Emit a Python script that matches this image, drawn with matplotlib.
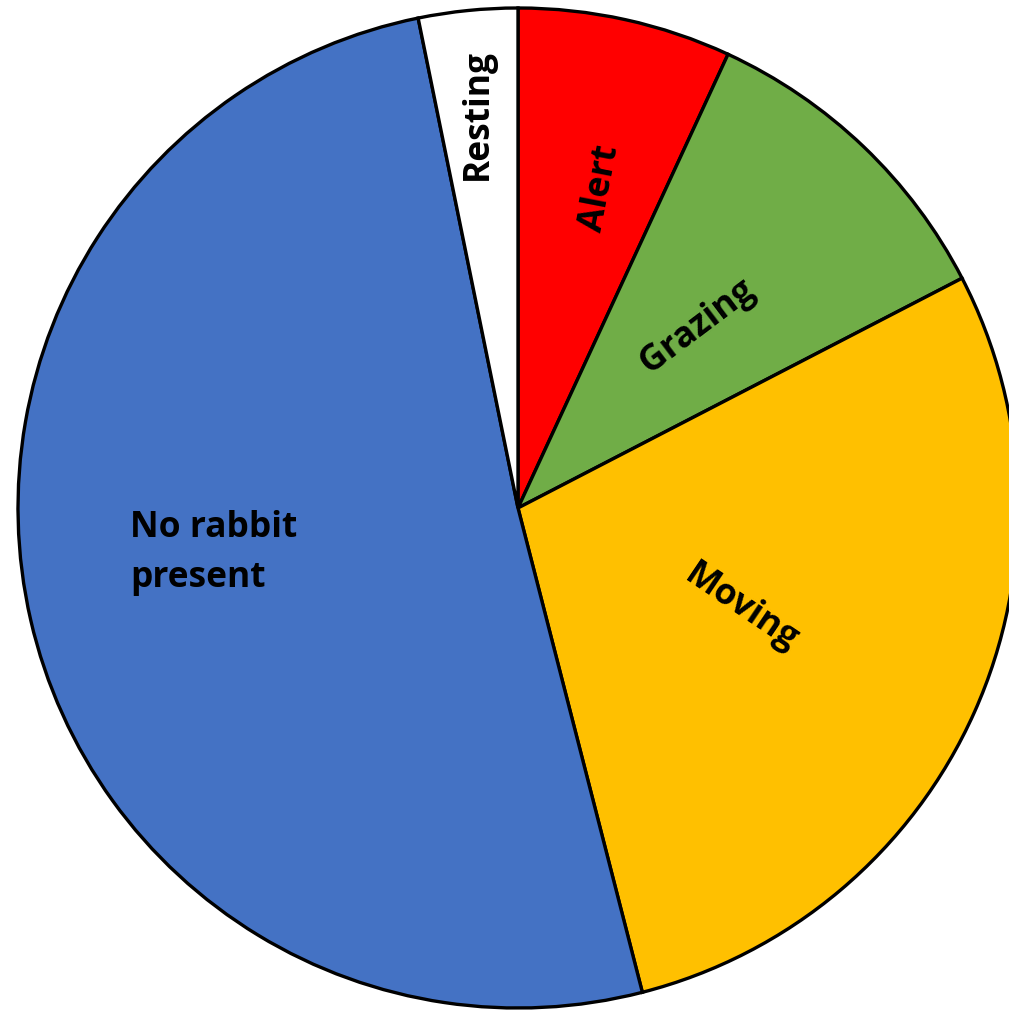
import numpy as np
import matplotlib
matplotlib.use("Agg")
import matplotlib.pyplot as plt

categories = ["Alert", "Grazing", "Moving", "No rabbit\npresent", "Resting"]
values = [6.9, 10.5, 28.6, 50.8, 3.2]
colors = ["#FF0000", "#70AD47", "#FFC000", "#4472C4", "#FFFFFF"]
label_radius = [0.66, 0.51, 0.49, 0.62, 0.79]
label_angle_shift = [-2.0, -1.0, 0.0, 0.0, 0.0]
label_rotation = [79, 37, -34, 0, 90]

W, H = 1009, 1011
fig = plt.figure(figsize=(W / 100, H / 100), dpi=100)
ax = fig.add_axes([0, 0, 1, 1])

cx, cy, R = 518, H - 508, 500
wedges, _ = ax.pie(values, colors=colors, startangle=90, counterclock=False,
                   center=(cx, cy), radius=R, frame=True,
                   wedgeprops=dict(edgecolor="black", linewidth=2.4))
ax.set_xlim(0, W)
ax.set_ylim(0, H)
ax.set_aspect("equal")
ax.axis("off")

fp = dict(family="Open Sans", weight="bold", size=25.5, color="black")
for w, lab, rf, sh, rot in zip(wedges, categories, label_radius,
                               label_angle_shift, label_rotation):
    mid = np.deg2rad((w.theta1 + w.theta2) / 2 + sh)
    x = cx + rf * R * np.cos(mid)
    y = cy + rf * R * np.sin(mid)
    if "\n" in lab:
        ax.text(130, H - 553, lab, ha="left", va="center", rotation=rot,
                linespacing=1.5, **fp)
    else:
        ax.text(x, y, lab, ha="center", va="center", rotation=rot,
                rotation_mode="anchor", **fp)

fig.savefig("out.png", dpi=100)
